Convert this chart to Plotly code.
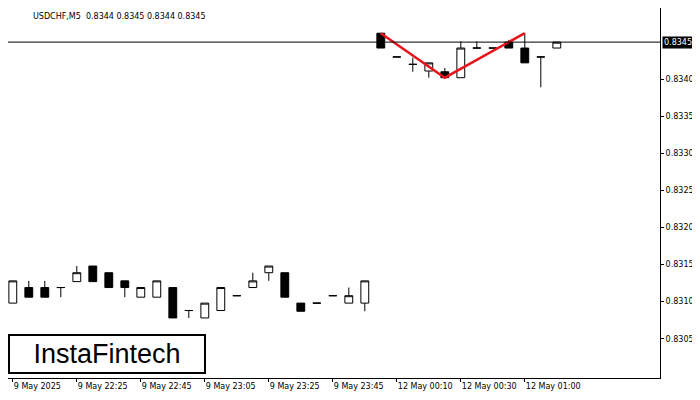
import plotly.graph_objects as go

# M5 candles, index 0..34 (weekend gap closed)
opens = [0.83098, 0.83119, 0.83119, 0.83119, 0.83127, 0.83148, 0.83139, 0.83128, 0.83106, 0.83106,
         0.83119, 0.83088, 0.83078, 0.83088, 0.83108, 0.83119, 0.83139, 0.83139, 0.83098, 0.83098,
         0.83108, 0.83098, 0.83098,
         0.83462, 0.83430, 0.83420, 0.83411, 0.83410, 0.83402, 0.83442, 0.83442, 0.83450, 0.83442,
         0.83430, 0.83442]
highs = [0.83128, 0.83128, 0.83128, 0.83119, 0.83148, 0.83148, 0.83139, 0.83128, 0.83119, 0.83128,
         0.83119, 0.83088, 0.83098, 0.83119, 0.83108, 0.83139, 0.83148, 0.83139, 0.83098, 0.83098,
         0.83108, 0.83119, 0.83128,
         0.83462, 0.83430, 0.83429, 0.83422, 0.83415, 0.83451, 0.83451, 0.83442, 0.83453, 0.83462,
         0.83430, 0.83450]
lows = [0.83098, 0.83106, 0.83106, 0.83106, 0.83127, 0.83127, 0.83119, 0.83106, 0.83106, 0.83106,
        0.83078, 0.83078, 0.83078, 0.83088, 0.83108, 0.83119, 0.83128, 0.83106, 0.83087, 0.83098,
        0.83108, 0.83098, 0.83087,
        0.83442, 0.83430, 0.83410, 0.83402, 0.83402, 0.83402, 0.83442, 0.83442, 0.83442, 0.83422,
        0.83389, 0.83442]
closes = [0.83128, 0.83106, 0.83106, 0.83119, 0.83139, 0.83127, 0.83119, 0.83119, 0.83119, 0.83128,
          0.83078, 0.83088, 0.83098, 0.83119, 0.83108, 0.83128, 0.83148, 0.83106, 0.83087, 0.83098,
          0.83108, 0.83108, 0.83128,
          0.83442, 0.83430, 0.83420, 0.83422, 0.83402, 0.83442, 0.83442, 0.83442, 0.83442, 0.83422,
          0.83430, 0.83450]

tick_pos = [0, 4, 8, 12, 16, 20, 24, 28, 32]
tick_text = ["9 May 2025", "9 May 22:25", "9 May 22:45", "9 May 23:05", "9 May 23:25",
             "9 May 23:45", "12 May 00:10", "12 May 00:30", "12 May 01:00"]
# 0.8345 is shown by the current-price label instead
price_ticks = [0.8305, 0.8310, 0.8315, 0.8320, 0.8325, 0.8330, 0.8335, 0.8340, 0.8350]

# double-top pattern points
pattern_x = [23, 27, 32]
pattern_y = [0.83462, 0.83402, 0.83462]
current_price = 0.8345

x = list(range(len(opens)))

fig = go.Figure()
fig.add_trace(go.Candlestick(
    x=x, open=opens, high=highs, low=lows, close=closes,
    increasing=dict(line=dict(color="black", width=1), fillcolor="white"),
    decreasing=dict(line=dict(color="black", width=1), fillcolor="black"),
    whiskerwidth=0, showlegend=False, hoverinfo="skip"))
fig.add_trace(go.Scatter(x=pattern_x, y=pattern_y, mode="lines",
                         line=dict(color="#e8141c", width=2.5), showlegend=False))
fig.add_hline(y=current_price, line=dict(color="black", width=1))

fig.update_layout(
    width=692, height=392, margin=dict(l=0, r=40, t=0, b=22, autoexpand=False),
    plot_bgcolor="white", paper_bgcolor="white",
    font=dict(family="DejaVu Sans", size=8, color="black"),
    xaxis=dict(range=[-0.3, 40.45], tickvals=tick_pos, ticktext=tick_text, showgrid=False,
               rangeslider=dict(visible=False), showline=True, linecolor="black", mirror=True,
               ticks="outside", ticklen=3, tickcolor="black", tickangle=0,
               ticklabelposition="outside right"),
    yaxis=dict(range=[0.82997, 0.83496], side="right", tickvals=price_ticks,
               tickformat=".4f", showgrid=False, showline=True, linecolor="black", mirror=True,
               ticks="outside", ticklen=3, tickcolor="black"),
    annotations=[
        dict(text="USDCHF,M5  0.8344 0.8345 0.8344 0.8345", xref="paper", yref="paper",
             x=0.035, y=0.995, xanchor="left", yanchor="top", showarrow=False,
             font=dict(size=8)),
        dict(text="0.8345", xref="paper", yref="y", x=1.003, y=current_price, xanchor="left",
             showarrow=False, bgcolor="black", font=dict(color="white", size=8),
             borderpad=1),
        dict(text="InstaFintech", xref="paper", yref="paper", x=0.0, y=0.01,
             xanchor="left", yanchor="bottom", showarrow=False,
             font=dict(family="Liberation Sans", size=27, color="black"),
             bordercolor="black", borderwidth=2, borderpad=3, bgcolor="white", width=188),
    ],
)

fig.write_html("out.html")
